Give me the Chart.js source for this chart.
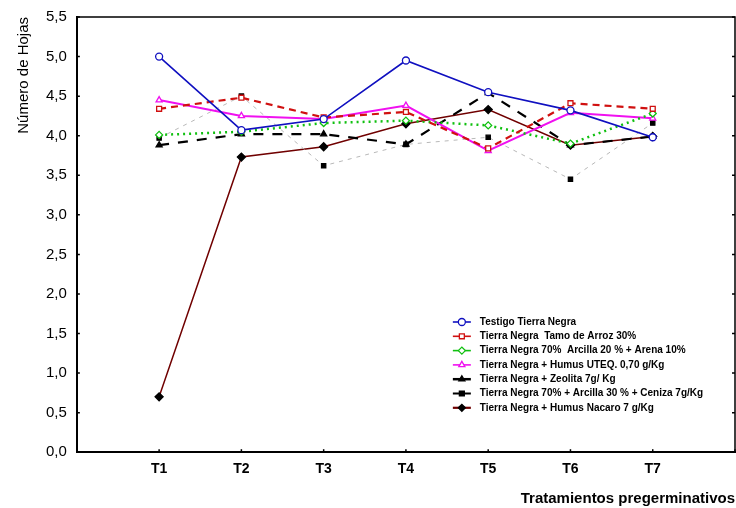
<!DOCTYPE html>
<html>
<head>
<meta charset="utf-8">
<script src="https://cdn.jsdelivr.net/npm/chart.js@4.4.1/dist/chart.umd.min.js"></script>
<style>
  html, body { margin: 0; padding: 0; background: #fff; }
  #wrap { width: 736px; height: 508px; position: relative; }
</style>
</head>
<body>
<div id="wrap"><canvas id="grafica"></canvas></div>
<script>
// categorias (con huecos a los lados para dejar margen como en la figura)
const tratamientos = ["", "T1", "T2", "T3", "T4", "T5", "T6", "T7", ""];

// valores
const testigo  = [null, 5.00, 4.07, 4.21, 4.95, 4.55, 4.32, 3.98, null];
const tamo     = [null, 4.34, 4.48, 4.23, 4.30, 3.84, 4.41, 4.34, null];
const arcillaArena = [null, 4.01, 4.05, 4.16, 4.19, 4.13, 3.90, 4.28, null];
const humusUteq = [null, 4.45, 4.25, 4.21, 4.38, 3.81, 4.29, 4.22, null];
const zeolita  = [null, 3.88, 4.02, 4.02, 3.89, 4.54, 3.88, 3.99, null];
const ceniza   = [null, 3.97, 4.50, 3.62, 3.89, 3.98, 3.45, 4.16, null];
const nacaro   = [null, 0.70, 3.73, 3.86, 4.15, 4.33, 3.88, 3.99, null];

const nombres = [
  "Testigo Tierra Negra",
  "Tierra Negra  Tamo de Arroz 30%",
  "Tierra Negra 70%  Arcilla 20 % + Arena 10%",
  "Tierra Negra + Humus UTEQ. 0,70 g/Kg",
  "Tierra Negra + Zeolita 7g/ Kg",
  "Tierra Negra 70% + Arcilla 30 % + Ceniza 7g/Kg",
  "Tierra Negra + Humus Nacaro 7 g/Kg"
];

const serie = (label, data, color, estilo) => Object.assign({
  label: label,
  data: data,
  borderColor: color,
  backgroundColor: "#fff",
  pointBorderColor: color,
  borderWidth: 1.6,
  pointRadius: 3.5,
  pointBorderWidth: 1.3,
  tension: 0,
  spanGaps: false
}, estilo);

// leyenda dibujada dentro del area del grafico
const leyendaInterna = {
  id: "leyendaInterna",
  afterDraw(chart) {
    const ctx = chart.ctx;
    const area = chart.chartArea;
    const x0 = area.left + 376, y0 = area.top + 305;
    ctx.save();
    ctx.font = "bold 10px Arial, 'Liberation Sans', sans-serif";
    ctx.textBaseline = "middle";
    chart.data.datasets.forEach((ds, i) => {
      const y = y0 + i * 14.3;
      ctx.strokeStyle = ds.legendColor || ds.borderColor;
      ctx.lineWidth = ds.legendWidth || 1.6;
      ctx.setLineDash([]);
      ctx.beginPath();
      ctx.moveTo(x0, y);
      ctx.lineTo(x0 + 18, y);
      ctx.stroke();
      ctx.fillStyle = ds.backgroundColor;
      ctx.strokeStyle = ds.pointBorderColor;
      ctx.lineWidth = 1.3;
      Chart.helpers.drawPoint(ctx, { pointStyle: ds.pointStyle || "circle", radius: 3.5, borderWidth: 1.3 }, x0 + 9, y);
      ctx.fillStyle = "#000";
      ctx.fillText(ds.label, x0 + 27, y);
    });
    ctx.restore();
  }
};

// marco superior y derecho, con marcas de division hacia dentro
const marco = {
  id: "marco",
  afterDraw(chart) {
    const { ctx, chartArea: a } = chart;
    ctx.save();
    ctx.strokeStyle = "#000";
    ctx.lineWidth = 1.5;
    ctx.beginPath();
    ctx.moveTo(a.left, a.top);
    ctx.lineTo(a.right, a.top);
    ctx.lineTo(a.right, a.bottom);
    ctx.stroke();
    const y = chart.scales.y;
    y.ticks.forEach(t => {
      const py = y.getPixelForValue(t.value);
      ctx.beginPath();
      ctx.moveTo(a.right - 3, py);
      ctx.lineTo(a.right, py);
      ctx.moveTo(a.left, py);
      ctx.lineTo(a.left + 3, py);
      ctx.stroke();
    });
    const x = chart.scales.x;
    x.ticks.forEach((t, i) => {
      const px = x.getPixelForTick(i);
      ctx.beginPath();
      ctx.moveTo(px, a.bottom);
      ctx.lineTo(px, a.bottom - 3);
      ctx.stroke();
    });
    ctx.restore();
  }
};

new Chart(document.getElementById("grafica").getContext("2d"), {
  type: "line",
  data: {
    labels: tratamientos,
    datasets: [
      serie(nombres[0], testigo, "#1010c0", { pointStyle: "circle" }),
      serie(nombres[1], tamo, "#d01010", { pointStyle: "rect", borderDash: [7, 5], borderWidth: 2.2 }),
      serie(nombres[2], arcillaArena, "#10c010", { pointStyle: "rectRot", borderDash: [2, 4], borderWidth: 2.5 }),
      serie(nombres[3], humusUteq, "#f010f0", { pointStyle: "triangle", borderWidth: 2 }),
      serie(nombres[4], zeolita, "#000", { pointStyle: "triangle", borderDash: [10, 9], borderWidth: 2.2, backgroundColor: "#000", legendWidth: 2.5 }),
      serie(nombres[5], ceniza, "#b8b8b8", { pointStyle: "rect", borderDash: [4, 5], borderWidth: 1, backgroundColor: "#000", pointBorderColor: "#000", pointRadius: 3, legendColor: "#000", legendWidth: 2 }),
      serie(nombres[6], nacaro, "#700000", { pointStyle: "rectRot", backgroundColor: "#000", pointBorderColor: "#000", borderWidth: 1.5, pointRadius: 4, legendWidth: 2.2 })
    ]
  },
  options: {
    responsive: true,
    maintainAspectRatio: false,
    animation: false,
    layout: { autoPadding: false, padding: { left: 15, right: 1, top: 17, bottom: 0 } },
    plugins: {
      legend: { display: false },
      tooltip: { enabled: false }
    },
    scales: {
      x: {
        offset: false,
        border: { color: "#000", width: 2 },
        grid: { display: true, drawOnChartArea: false, tickLength: 9, tickColor: "rgba(0,0,0,0)" },
        ticks: {
          color: "#000",
          font: { size: 14, weight: "bold", family: "Arial, 'Liberation Sans', sans-serif" },
          autoSkip: false,
          maxRotation: 0,
          padding: 0
        },
        title: {
          display: true,
          text: "Tratamientos pregerminativos",
          align: "end",
          color: "#000",
          font: { size: 15, weight: "bold", family: "Arial, 'Liberation Sans', sans-serif" },
          padding: { top: 12, bottom: 0 }
        }
      },
      y: {
        min: 0,
        max: 5.5,
        border: { color: "#000", width: 2 },
        grid: { display: true, drawOnChartArea: false, tickLength: 4, tickColor: "rgba(0,0,0,0)" },
        ticks: {
          stepSize: 0.5,
          color: "#000",
          font: { size: 15, family: "Arial, 'Liberation Sans', sans-serif" },
          padding: 6,
          callback: v => v.toFixed(1).replace(".", ",")
        },
        title: {
          display: true,
          text: "Número de Hojas",
          align: "end",
          color: "#000",
          font: { size: 15, family: "Arial, 'Liberation Sans', sans-serif" },
          padding: { top: 0, bottom: 7 }
        }
      }
    }
  },
  plugins: [leyendaInterna, marco]
});
</script>
</body>
</html>
